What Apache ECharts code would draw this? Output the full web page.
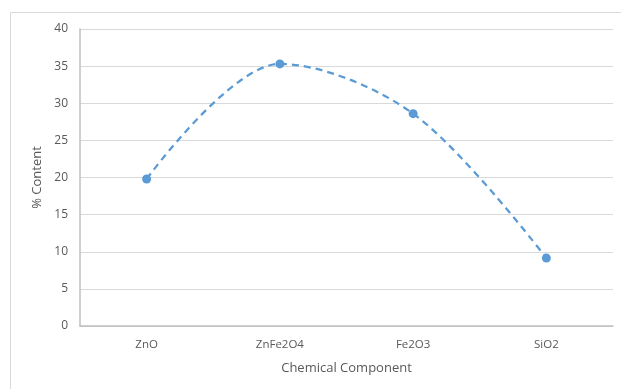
<!DOCTYPE html>
<html><head><meta charset="utf-8">
<script src="https://cdn.jsdelivr.net/npm/echarts@6/dist/echarts.min.js"></script>
<style>html,body{margin:0;padding:0;background:#fff}#c{width:621px;height:389px}</style>
</head><body><div id="c"></div>
<script>
const categories = ['ZnO', 'ZnFe2O4', 'Fe2O3', 'SiO2'];
const contentValues = [19.8, 35.3, 28.6, 9.15];
const yTicks = [0, 5, 10, 15, 20, 25, 30, 35, 40];

const font = 'Open Sans';
const chart = echarts.init(document.getElementById('c'));
chart.setOption({
  animation: false,
  graphic: [{
    type: 'rect', shape: {x: 10.5, y: 12.5, width: 700, height: 500},
    style: {fill: 'none', stroke: '#d9d9d9', lineWidth: 1}, z: -1
  }],
  grid: {left: 80, right: 8, top: 29, bottom: 63},
  xAxis: {
    type: 'category', data: categories, boundaryGap: true,
    name: 'Chemical Component', nameLocation: 'middle', nameGap: 36,
    nameTextStyle: {fontFamily: font, fontSize: 13, color: '#595959'},
    axisLine: {lineStyle: {color: '#bfbfbf', width: 1.5}},
    axisTick: {show: false},
    axisLabel: {fontFamily: font, fontSize: 11.5, color: '#595959', margin: 13}
  },
  yAxis: {
    type: 'value', min: yTicks[0], max: yTicks[yTicks.length - 1], interval: 5,
    name: '% Content', nameLocation: 'middle', nameGap: 33,
    nameTextStyle: {fontFamily: font, fontSize: 13, color: '#595959'},
    axisLine: {show: true, lineStyle: {color: '#bfbfbf', width: 1.5}},
    axisTick: {show: false},
    splitLine: {lineStyle: {color: '#d9d9d9', width: 1}},
    axisLabel: {fontFamily: font, fontSize: 12, color: '#595959', margin: 12}
  },
  series: [{
    type: 'line', data: contentValues, smooth: 0.33,
    symbol: 'circle', symbolSize: 9,
    itemStyle: {color: '#5b9bd5'},
    lineStyle: {color: '#5b9bd5', width: 2.25, type: [7, 5]}
  }]
});
</script></body></html>
